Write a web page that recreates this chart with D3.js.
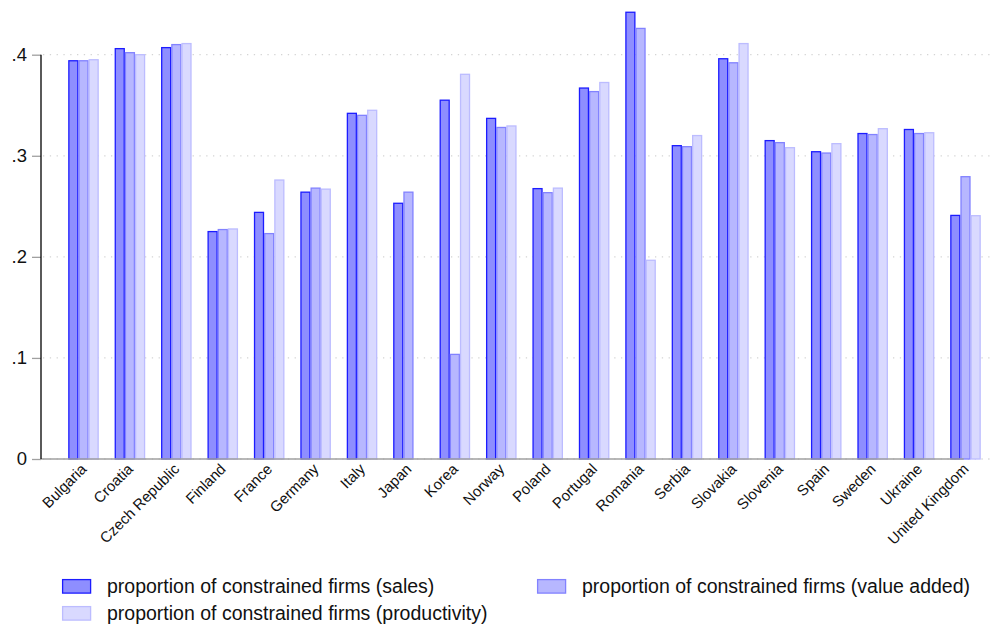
<!DOCTYPE html>
<html>
<head>
<meta charset="utf-8">
<script src="https://cdn.jsdelivr.net/npm/d3@7"></script>
<style>
  html, body { margin: 0; padding: 0; background: #fff; }
  svg { display: block; font-family: "Liberation Sans", Arial, sans-serif; }
</style>
</head>
<body>
<svg id="chart" width="995" height="631"></svg>
<script>
const countries = ["Bulgaria","Croatia","Czech Republic","Finland","France","Germany","Italy","Japan","Korea","Norway","Poland","Portugal","Romania","Serbia","Slovakia","Slovenia","Spain","Sweden","Ukraine","United Kingdom"];
const sales =        [0.394,0.406,0.407,0.225,0.244,0.264,0.342,0.253,0.355,0.337,0.2675,0.367,0.442,0.310,0.396,0.315,0.304,0.322,0.326,0.241];
const valueAdded =   [0.394,0.402,0.410,0.227,0.223,0.268,0.340,0.264,0.1035,0.328,0.2635,0.3635,0.426,0.309,0.392,0.313,0.3027,0.321,0.322,0.2793];
const productivity = [0.395,0.400,0.411,0.2276,0.276,0.267,0.345,null,0.3806,0.3295,0.268,0.3725,0.1966,0.320,0.411,0.308,0.312,0.3268,0.3228,0.2407];
const seriesNames = ["proportion of constrained firms (sales)","proportion of constrained firms (value added)","proportion of constrained firms (productivity)"];
const yTicks = [0, 0.1, 0.2, 0.3, 0.4];
const yTickLabels = ["0", ".1", ".2", ".3", ".4"];

const fills = ["#8e8eff", "#b7b7ff", "#d9d9ff"];
const strokes = ["#1c1cff", "#8282ff", "#bcbcff"];

const svg = d3.select("#chart");
const series = [sales, valueAdded, productivity];

const y = d3.scaleLinear().domain([0, 0.4]).range([459, 54.7]);
const step = (965.5 - 83.5) / 19;
const x = d3.scaleBand().domain(countries)
  .range([83.5 - step / 2, 965.5 + step / 2])
  .paddingInner(0.343).paddingOuter(0.343 / 2);
const xs = d3.scaleBand().domain([0, 1, 2]).range([0, x.bandwidth()]).padding(0);

// grid
svg.append("g").selectAll("line").data(yTicks).join("line")
  .attr("x1", 43).attr("x2", 994)
  .attr("y1", d => y(d)).attr("y2", d => y(d))
  .attr("stroke", "#d4d4d4").attr("stroke-width", 1.3)
  .attr("stroke-dasharray", "1.3,5.5");

// bars
series.forEach((vals, si) => {
  svg.append("g").selectAll("rect")
    .data(countries.map((c, i) => ({c, v: vals[i]})).filter(d => d.v !== null))
    .join("rect")
    .attr("x", d => x(d.c) + xs(si) + 0.6)
    .attr("width", xs.bandwidth() - 1.2)
    .attr("y", d => y(d.v))
    .attr("height", d => y(0) - y(d.v))
    .attr("fill", fills[si])
    .attr("stroke", strokes[si])
    .attr("stroke-width", 1.3);
});

// x baseline
svg.append("line")
  .attr("x1", 41).attr("x2", x.range()[1] - 25)
  .attr("y1", y(0)).attr("y2", y(0))
  .attr("stroke", "#a0a0a0").attr("stroke-width", 1.5);

// y axis
const yAxis = d3.axisLeft(y).tickValues(yTicks)
  .tickFormat((d, i) => yTickLabels[i]).tickSize(9).tickPadding(5);
const ya = svg.append("g").attr("transform", "translate(41,0)").call(yAxis);
ya.select(".domain").remove();
ya.selectAll(".tick line").attr("stroke", "#a0a0a0").attr("stroke-width", 1.3);
ya.selectAll(".tick text").attr("font-size", 18.5).attr("fill", "#111")
  .attr("font-family", "Liberation Sans, Arial, sans-serif");
svg.append("line").attr("x1", 41).attr("x2", 41)
  .attr("y1", y(0.4)).attr("y2", y(0))
  .attr("stroke", "#000").attr("stroke-width", 1.3);

// x labels
svg.append("g").selectAll("text").data(countries).join("text")
  .attr("transform", d => `translate(${x(d) + x.bandwidth() / 2 + 4},${470}) rotate(-45)`)
  .attr("text-anchor", "end")
  .attr("font-size", 15)
  .attr("fill", "#111")
  .text(d => d);

// legend
const legendPos = [[62, 579], [537, 579], [62, 606]];
seriesNames.forEach((n, i) => {
  const [lx, ly] = legendPos[i];
  svg.append("rect").attr("x", lx + 0.6).attr("y", ly + 0.6)
    .attr("width", 28).attr("height", 13.5)
    .attr("fill", fills[i]).attr("stroke", strokes[i]).attr("stroke-width", 1.3);
  svg.append("text").attr("x", lx + 45).attr("y", ly + 14)
    .attr("font-size", 19.5).attr("fill", "#111").text(n);
});
</script>
</body>
</html>
